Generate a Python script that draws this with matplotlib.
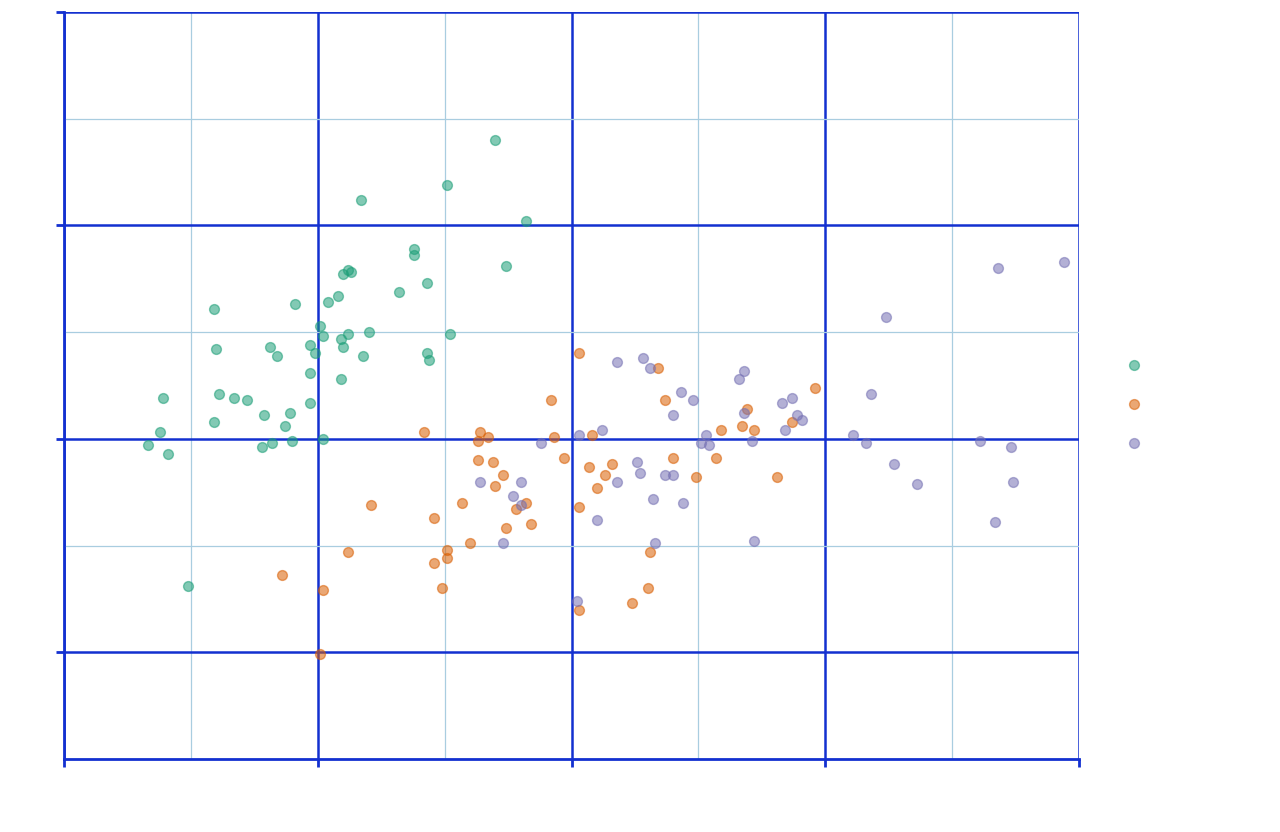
import matplotlib.pyplot as plt
from matplotlib.ticker import MultipleLocator

# sepal length / sepal width (points carry some jitter)
setosa_x = [5.51, 5.17, 5.38, 5.38, 5.10, 5.12, 5.13, 5.43, 5.32, 4.59,
            4.91, 5.04, 5.08, 5.01, 5.02, 5.09, 5.12, 5.20, 5.52, 4.60,
            4.81, 4.84, 4.97, 5.10, 4.99, 5.18, 5.43, 5.44, 4.97, 5.09,
            5.70, 5.82, 5.74, 4.39, 4.61, 4.67, 4.72, 4.97, 4.79, 4.89,
            4.59, 4.87, 4.38, 4.33, 4.41, 4.78, 4.82, 4.90, 5.02, 4.49]
setosa_y = [4.19, 4.12, 3.89, 3.86, 3.77, 3.79, 3.78, 3.73, 3.69, 3.61,
            3.63, 3.64, 3.67, 3.53, 3.48, 3.47, 3.49, 3.50, 3.49, 3.42,
            3.43, 3.39, 3.44, 3.43, 3.40, 3.39, 3.40, 3.37, 3.31, 3.28,
            4.40, 4.02, 3.81, 3.19, 3.21, 3.19, 3.18, 3.17, 3.11, 3.12,
            3.08, 3.06, 3.03, 2.97, 2.93, 2.96, 2.98, 2.99, 3.00, 2.31]

versicolor_x = [6.03, 6.34, 5.92, 6.37, 6.69, 5.64, 5.63, 5.67, 5.93, 6.08,
                6.59, 6.67, 6.72, 5.97, 5.63, 5.69, 6.07, 6.16, 6.13, 6.40,
                6.57, 5.73, 5.70, 6.10, 6.49, 5.57, 5.82, 5.78, 6.03, 5.84,
                5.74, 5.60, 5.51, 5.51, 6.31, 6.30, 6.24, 6.03, 5.42, 5.21,
                5.46, 5.12, 4.86, 5.02, 5.49, 5.01, 6.96, 6.87, 6.81, 5.46]
versicolor_y = [3.40, 3.33, 3.18, 3.18, 3.14, 3.03, 2.99, 3.01, 3.01, 3.02,
                3.04, 3.06, 3.04, 2.91, 2.90, 2.89, 2.87, 2.88, 2.83, 2.91,
                2.91, 2.83, 2.78, 2.77, 2.82, 2.70, 2.70, 2.67, 2.68, 2.60,
                2.58, 2.51, 2.48, 2.44, 2.47, 2.30, 2.23, 2.20, 3.03, 2.69,
                2.63, 2.47, 2.36, 2.29, 2.30, 1.99, 3.24, 3.08, 2.82, 2.42]

virginica_x = [6.18, 6.28, 6.31, 6.68, 6.66, 6.43, 6.48, 6.40, 6.68, 6.03,
               6.12, 5.88, 6.53, 6.51, 6.54, 6.71, 6.26, 6.27, 6.37, 6.40,
               6.18, 5.64, 5.80, 5.77, 6.32, 6.44, 5.80, 6.10, 5.73, 6.33,
               6.72, 6.02, 7.68, 7.94, 7.24, 7.18, 6.83, 6.87, 6.89, 6.91,
               6.84, 7.11, 7.16, 7.27, 7.36, 7.61, 7.73, 7.74, 7.67]
virginica_y = [3.36, 3.38, 3.33, 3.32, 3.28, 3.22, 3.18, 3.11, 3.12, 3.02,
               3.04, 2.98, 3.02, 2.98, 2.97, 2.99, 2.89, 2.84, 2.83, 2.83,
               2.80, 2.80, 2.80, 2.73, 2.72, 2.70, 2.69, 2.62, 2.51, 2.51,
               2.52, 2.24, 3.80, 3.83, 3.57, 3.21, 3.17, 3.19, 3.11, 3.09,
               3.04, 3.02, 2.98, 2.88, 2.79, 2.99, 2.96, 2.80, 2.61]

species = ['setosa', 'versicolor', 'virginica']
colors = ['#1b9e77', '#d95f02', '#7570b3']
blue = '#1330d0'

fig = plt.figure(figsize=(12.8, 8.32), dpi=100)
ax = fig.add_axes([0.05, 0.0877, 0.793, 0.898])

for xs, ys, name, c in zip([setosa_x, versicolor_x, virginica_x],
                           [setosa_y, versicolor_y, virginica_y],
                           species, colors):
    ax.scatter(xs, ys, s=50, color=c, alpha=0.55, linewidths=1,
               label=name, zorder=3)

ax.set_xlim(4, 8)
ax.set_ylim(1.5, 5)
ax.xaxis.set_major_locator(MultipleLocator(1))
ax.xaxis.set_minor_locator(MultipleLocator(0.5))
ax.yaxis.set_major_locator(MultipleLocator(1))
ax.yaxis.set_minor_locator(MultipleLocator(0.5))

ax.grid(which='minor', color='#a9cde0', linewidth=0.9, zorder=0)
ax.grid(which='major', color=blue, linewidth=1.8, zorder=1)
ax.set_axisbelow(True)

for side in ['top', 'right']:
    ax.spines[side].set_visible(False)
for side in ['left', 'bottom']:
    ax.spines[side].set_color(blue)
    ax.spines[side].set_linewidth(2)

ax.tick_params(which='major', color=blue, width=2, length=6,
               labelcolor='white')
ax.tick_params(which='minor', length=0)
ax.set_xlabel('sepal_length', color='white')
ax.set_ylabel('sepal_width', color='white')

leg = ax.legend(loc='center left', bbox_to_anchor=(1.026, 0.501),
                frameon=False, labelspacing=1.55, handletextpad=0.8,
                title='species', fontsize=11)
for t in leg.get_texts():
    t.set_color('white')
leg.get_title().set_color('white')

fig.savefig('out.png', dpi=100)
